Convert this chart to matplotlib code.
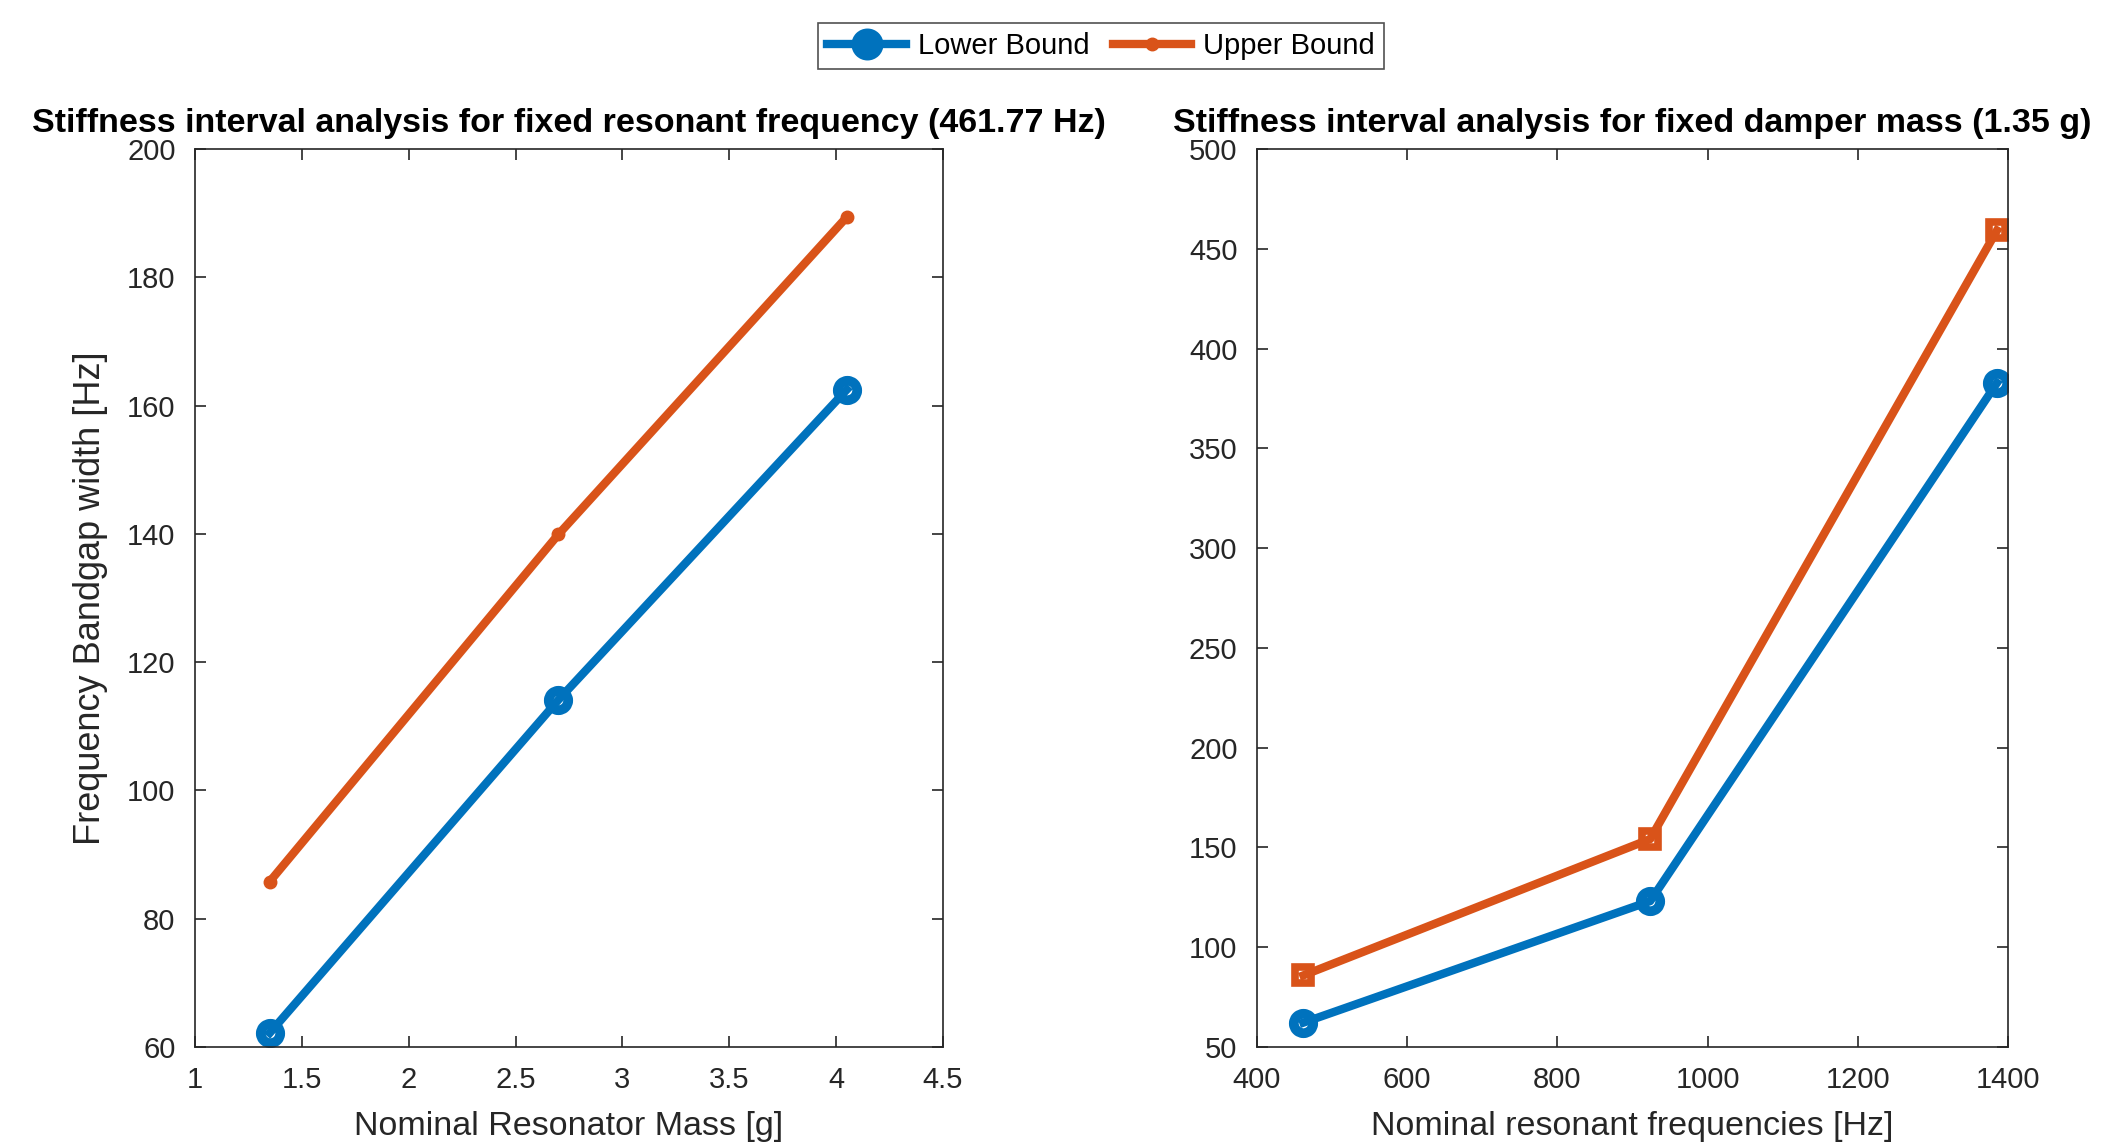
import numpy as np
import matplotlib.pyplot as plt

plt.rcParams['font.family'] = ['Liberation Sans', 'DejaVu Sans']

# left panel: fixed resonant frequency
mass = [1.35, 2.70, 4.05]
low_mass = [62.2, 114.1, 162.5]
up_mass = [85.8, 139.9, 189.4]

# right panel: fixed damper mass
freq = [461.77, 923.54, 1385.31]
low_freq = [62.2, 123.1, 382.8]
up_freq = [85.9, 154.2, 459.2]

blue = '#0072BD'
red = '#D95319'
gray = '#262626'

fig = plt.figure(figsize=(21.19, 11.44), dpi=100)
ax1 = fig.add_axes([195/2119, 1-1047/1144, (943-195)/2119, (1047-149)/1144])
ax2 = fig.add_axes([1257/2119, 1-1047/1144, (2008-1257)/2119, (1047-149)/1144])

lw = 6
l1, = ax1.plot(mass, low_mass, '-o', color=blue, lw=lw, ms=14, mfc='none', mew=7)
l2, = ax1.plot(mass, up_mass, '-o', color=red, lw=lw, ms=9, mfc=red, mew=1)
ax2.plot(freq, low_freq, '-o', color=blue, lw=lw, ms=14, mfc='none', mew=7)
ax2.plot(freq, up_freq, '-s', color=red, lw=lw, ms=11, mfc='none', mew=5.5)

ax1.set_xlim(1, 4.5)
ax1.set_ylim(60, 200)
ax1.set_xticks(np.arange(1, 4.6, 0.5))
ax1.set_xticklabels(['1', '1.5', '2', '2.5', '3', '3.5', '4', '4.5'])
ax1.set_yticks(np.arange(60, 201, 20))
ax2.set_xlim(400, 1400)
ax2.set_ylim(50, 500)
ax2.set_xticks(np.arange(400, 1401, 200))
ax2.set_yticks(np.arange(50, 501, 50))

ax1.set_title('Stiffness interval analysis for fixed resonant frequency (461.77 Hz)',
              fontsize=24.5, fontweight='bold', pad=12)
ax2.set_title('Stiffness interval analysis for fixed damper mass (1.35 g)',
              fontsize=24.5, fontweight='bold', pad=12)
ax1.set_xlabel('Nominal Resonator Mass [g]', fontsize=24.5, color=gray, labelpad=12)
ax1.set_ylabel('Frequency Bandgap width [Hz]', fontsize=26, color=gray, labelpad=14)
ax2.set_xlabel('Nominal resonant frequencies [Hz]', fontsize=24.5, color=gray, labelpad=12)

for ax in (ax1, ax2):
    ax.tick_params(direction='in', top=True, right=True, length=8, width=1.2,
                   labelsize=21, colors=gray, pad=14)
    for s in ax.spines.values():
        s.set_color(gray)
        s.set_linewidth(1.2)

leg = fig.legend([l1, l2], ['Lower Bound', 'Upper Bound'], loc='center',
                 bbox_to_anchor=(1101/2119, 1-46/1144), ncol=2, fontsize=21,
                 frameon=True, fancybox=False, edgecolor=gray, handlelength=2.7,
                 columnspacing=0.8, handletextpad=0.4, borderpad=0.3)
leg.get_frame().set_linewidth(1.2)
leg.legend_handles[0].set_markerfacecolor(blue)
leg.legend_handles[0].set_markersize(16)

fig.savefig('out.png', dpi=100, facecolor='white')
